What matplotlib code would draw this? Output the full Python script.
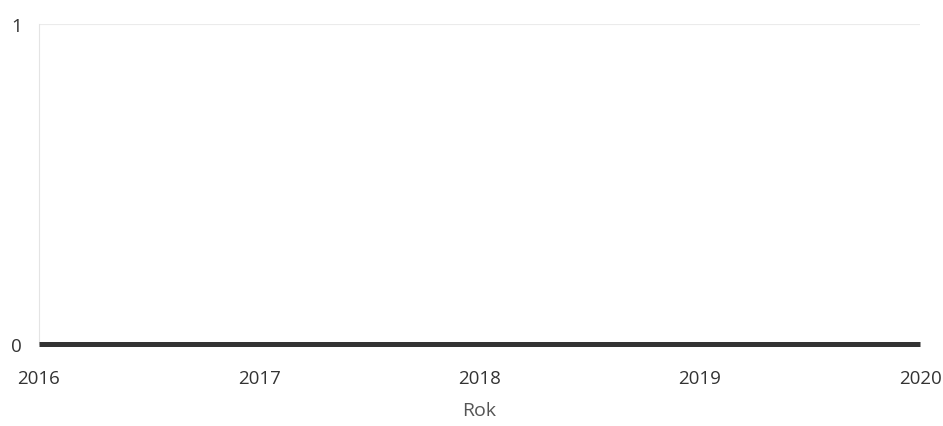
import matplotlib
matplotlib.use("Agg")
import matplotlib.pyplot as plt

years = [2016, 2017, 2018, 2019, 2020]
values = [0, 0, 0, 0, 0]
y_ticks = [0, 1]

plt.rcParams['font.family'] = ['Open Sans', 'DejaVu Sans']

fig = plt.figure(figsize=(9.43, 4.27), dpi=100)
ax = fig.add_axes([0.041, 0.192, 0.935, 0.749])

# line sits on the x axis, so let it draw past the axes edge
ax.plot(years, values, color="#333333", linewidth=3.6, solid_capstyle="butt",
        zorder=3, clip_on=False)

ax.set_xlim(years[0], years[-1])
ax.set_ylim(0, 1)
ax.set_xticks(years)
ax.set_xticklabels([str(y) for y in years])
ax.set_yticks(y_ticks)
ax.set_yticklabels([str(v) for v in y_ticks])
ax.grid(axis="y", color="#ebebeb", linewidth=0.8)
ax.set_axisbelow(True)

for side in ["top", "right", "bottom"]:
    ax.spines[side].set_visible(False)
ax.spines["left"].set_color("#e4e4e4")
ax.spines["left"].set_linewidth(0.8)

ax.tick_params(axis="both", length=0, labelsize=13.5, colors="#333333")
ax.tick_params(axis="x", pad=18)
ax.tick_params(axis="y", pad=12)

ax.set_xlabel("Rok", fontsize=14, color="#555555", labelpad=10)

fig.savefig("out.png", dpi=100)
